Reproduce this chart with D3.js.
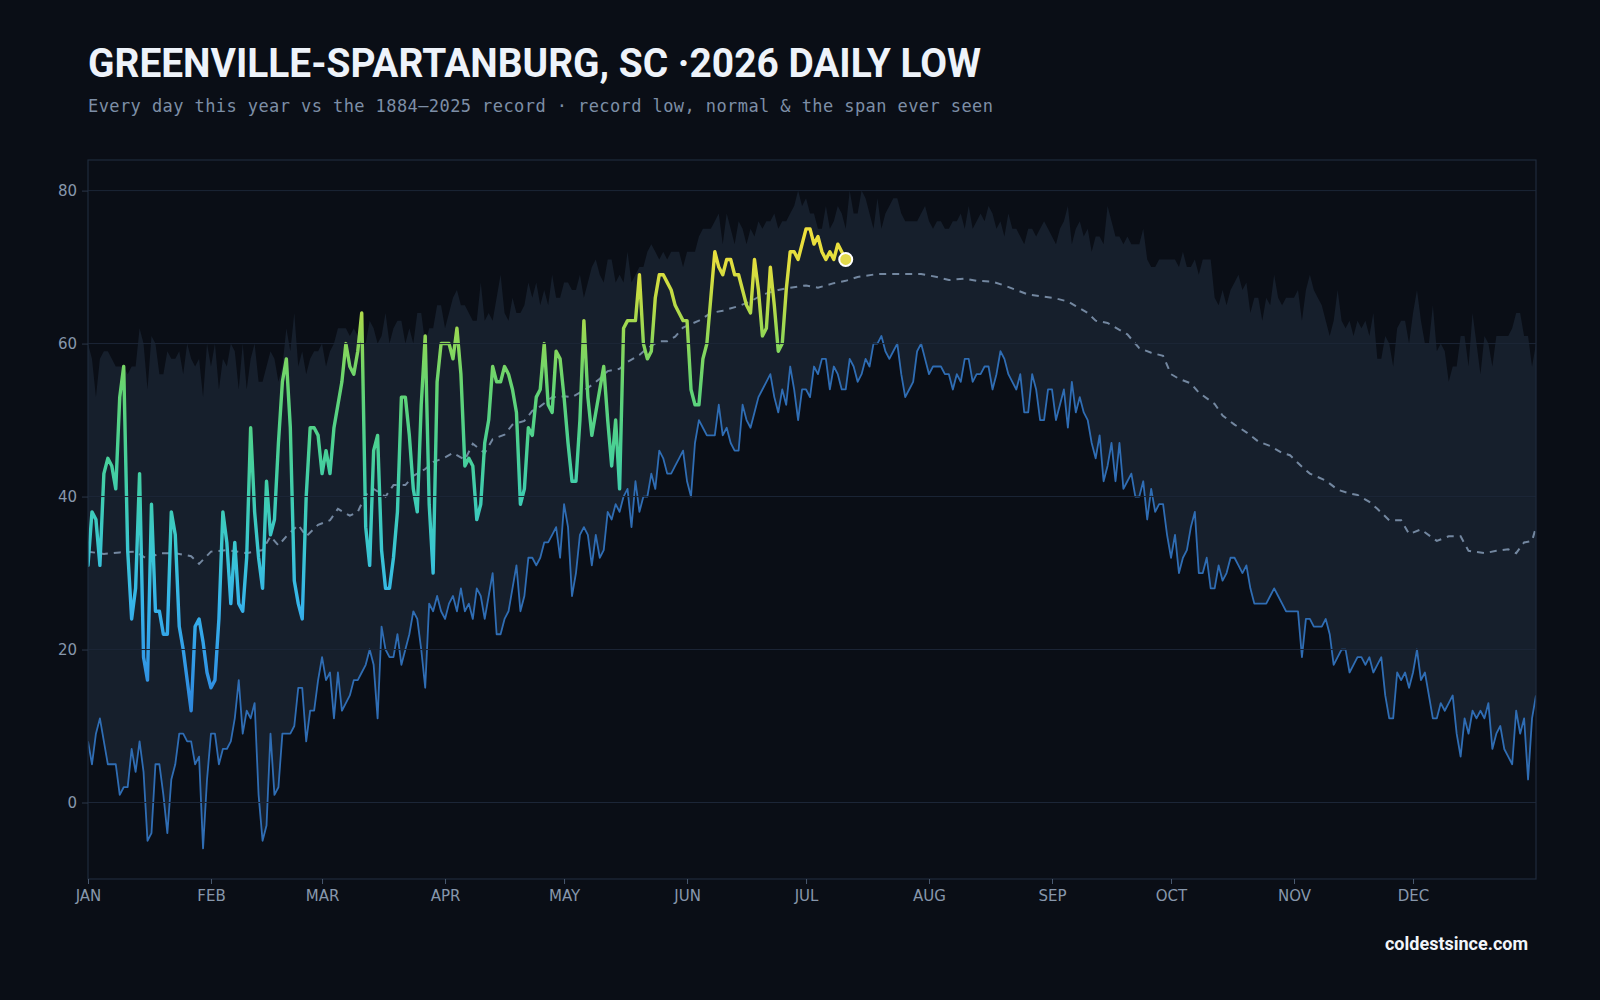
<!DOCTYPE html>
<html><head><meta charset="utf-8">
<script src="https://cdn.jsdelivr.net/npm/d3@7"></script>
<style>html,body{margin:0;padding:0;background:#0a0e16;} svg{display:block}</style>
</head><body>
<svg id="chart" width="1600" height="1000"></svg>
<script>
const titleText = "GREENVILLE-SPARTANBURG, SC ·2026 DAILY LOW";
const subtitleText = "Every day this year vs the 1884–2025 record · record low, normal & the span ever seen";
const footerText = "coldestsince.com";
const monthLabels = ["JAN","FEB","MAR","APR","MAY","JUN","JUL","AUG","SEP","OCT","NOV","DEC"];
const monthStartDays = [0,31,59,90,120,151,181,212,243,273,304,334];
const yTicks = [0,20,40,60,80];

// record low for each day of year (°F)
const recordLow = [
8,5,9,11,8,5,5,5,1,2,
2,7,4,8,4,-5,-4,5,5,1,
-4,3,5,9,9,8,8,5,6,-6,
3,9,9,5,7,7,8,11,16,9,
12,11,13,1,-5,-3,9,1,2,9,
9,9,10,15,15,8,12,12,16,19,
16,17,11,17,12,13,14,16,16,17,
18,20,18,11,23,20,19,19,22,18,
20,22,25,24,20,15,26,25,27,25,
24,26,27,25,28,25,26,24,28,27,
24,27,30,22,22,24,25,28,31,25,
27,32,32,31,32,34,34,35,36,32,
39,36,27,30,35,36,35,31,35,32,
33,38,37,39,38,40,41,36,42,38,
40,40,43,41,46,45,43,43,44,45,
46,42,40,47,50,49,48,48,48,52,
48,49,47,46,46,52,50,49,51,53,
54,55,56,53,51,54,52,57,54,50,
54,54,53,57,56,58,58,54,57,56,
54,54,58,57,55,56,58,57,60,60,
61,59,58,59,60,56,53,54,55,59,
60,58,56,57,57,57,56,56,54,56,
55,58,58,55,56,56,57,57,54,56,
59,58,56,55,54,56,51,51,56,54,
50,50,54,54,50,52,54,49,55,51,
53,51,50,47,45,48,42,44,47,42,
47,41,42,43,40,40,42,37,41,38,
39,39,35,32,35,30,32,33,36,38,
30,30,32,28,28,31,29,30,32,32,
31,30,31,28,26,26,26,26,27,28,
27,26,25,25,25,25,19,24,24,23,
23,23,24,22,18,19,20,20,17,18,
19,19,18,19,17,18,19,14,11,11,
17,16,17,15,17,20,16,17,14,11,
11,13,12,13,14,9,6,11,9,12,
11,12,11,13,7,9,10,7,6,5,
12,9,11,3,11,14
];

// highest daily low ever seen for each day (top of the span)
const recordHighLow = [
60,58,53,58,59,59,58,57,57,57,
56,57,57,62,60,54,61,60,56,56,
59,58,58,59,56,60,58,57,58,53,
60,57,60,54,58,57,60,59,54,60,
54,58,60,55,55,57,59,58,55,57,
62,59,64,57,59,56,58,59,59,60,
57,59,60,62,62,62,61,62,61,60,
60,63,62,60,61,64,60,62,63,63,
60,62,60,64,64,60,62,62,65,65,
62,64,66,67,65,65,64,63,63,68,
63,64,63,66,69,64,63,66,64,64,
65,68,66,68,65,67,65,69,66,66,
68,68,67,67,69,66,68,70,71,69,
68,71,71,68,69,68,72,68,69,70,
70,72,73,72,71,72,71,72,72,72,
70,72,72,72,74,75,75,75,76,77,
73,77,75,73,76,75,73,75,74,76,
75,76,76,77,75,76,76,77,78,80,
78,79,77,77,75,75,78,75,76,78,
77,75,80,77,77,80,79,77,75,79,
75,77,78,79,79,77,76,76,76,76,
77,78,76,75,76,76,75,75,76,76,
77,75,78,75,76,77,76,78,77,75,
76,74,77,75,75,74,73,75,75,74,
75,76,75,74,73,75,76,78,73,75,
76,74,75,72,74,74,73,78,76,74,
74,73,74,73,73,73,75,71,70,70,
71,71,71,71,71,70,72,70,70,71,
69,71,71,71,66,65,67,65,67,68,
69,67,68,64,66,66,63,66,65,69,
66,65,66,66,66,67,63,67,69,67,
66,65,63,61,63,67,63,62,63,61,
63,62,63,61,64,58,58,61,60,57,
62,63,63,60,64,67,63,60,60,65,
59,60,59,55,57,57,61,61,57,64,
60,56,61,60,57,61,61,61,61,62,
64,64,61,61,57,60
];

// normal daily low, read at sampled days
const normalDays = [0,4,8,12,15,18,22,26,28,31,35,40,44,46,48,50,53,55,58,61,63,66,68,70,72,75,77,80,82,85,87,90,92,95,97,100,102,105,107,110,112,114,117,120,122,126,129,131,134,136,139,141,144,146,148,150,154,157,160,164,167,170,174,177,181,184,188,191,194,199,203,207,210,214,217,221,224,228,231,234,237,240,244,247,249,252,254,257,260,262,265,268,271,273,275,278,280,284,286,289,292,295,298,301,303,306,308,312,315,318,320,323,325,328,331,333,336,340,343,346,348,352,355,358,360,362,364,365];
const normalTemps = [32.8,32.5,32.7,32.8,31.8,32.6,32.6,32.2,31.2,32.8,33,32.6,33,34.8,33.6,34.8,36.3,34.8,36.3,36.9,38.4,37.5,38,40.2,41,40,41.5,41.5,42.7,43.6,44.5,45.1,45.7,44.8,46.9,45.7,47.5,48.1,49.4,49.9,51.2,51.8,53,53.1,53,54.2,55.4,56.4,56.7,57.6,58.5,59.4,60.3,60.3,60.9,62.1,63,64,64.3,64.9,65.5,66.4,67,67.3,67.6,67.3,67.9,68.2,68.7,69.1,69.1,69.1,69.1,68.7,68.3,68.5,68.2,68.1,67.6,67,66.4,66.2,65.9,65.5,64.9,64,63,62.7,61.8,61.2,59.4,58.8,58.4,56,55.4,54.8,53.6,52.1,50.6,49.4,48.4,47.2,46.6,45.7,45.4,43.9,43,42.1,40.9,40.4,40.2,39.3,38.4,36.9,36.9,35.1,35.7,34.2,34.8,34.8,32.9,32.6,32.9,33.1,32.6,34,34.2,36];

// 2026 daily lows, Jan 1 .. Jul 11
const lows2026 = [
31,38,37,31,43,45,44,41,53,57,
33,24,28,43,19,16,39,25,25,22,
22,38,35,23,20,16,12,23,24,21,
17,15,16,24,38,34,26,34,26,25,
32,49,38,32,28,42,35,37,47,55,
58,49,29,26,24,40,49,49,48,43,
46,43,49,52,55,60,57,56,59,64,
36,31,46,48,33,28,28,32,38,53,
53,48,41,38,52,61,39,30,55,60,
60,60,58,62,56,44,45,44,37,39,
47,50,57,55,55,57,56,54,51,39,
41,49,48,53,54,60,52,51,59,58,
53,47,42,42,50,63,53,48,51,54,
57,50,44,50,41,62,63,63,63,69,
60,58,59,66,69,69,68,67,65,64,
63,63,54,52,52,58,60,66,72,70,
69,71,71,69,69,67,65,64,71,67,
61,62,70,65,59,60,67,72,72,71,
73,75,75,73,74,72,71,72,71,73,
72,71
];

// colour ramp for 2026 line by temperature
const rampTemps  = [10,18,26,33,40,47,54,60,66,71,76];
const rampColors = ["#2c80d8","#3299e6","#36b4ea","#3ac6d2","#3fcdb0","#4bd192","#62d474","#8ad75a","#c0db44","#e5de3e","#f0e03c"];

const svg = d3.select("#chart");
const W = 1600, H = 1000;
const plot = {left: 88, right: 1536, top: 160, bottom: 879};

svg.append("rect").attr("width", W).attr("height", H).attr("fill", "#0a0e16");

const x = d3.scaleLinear().domain([0, 365]).range([plot.left, plot.right]);
const y = d3.scaleLinear().domain([-10, 84]).range([plot.bottom, plot.top]);

// title
svg.append("text")
  .attr("x", 88).attr("y", 77)
  .attr("font-family", "Roboto, 'Liberation Sans', sans-serif")
  .attr("font-weight", 700).attr("font-size", 40)
  .attr("fill", "#eef3fa")
  .attr("textLength", 893).attr("lengthAdjust", "spacingAndGlyphs")
  .text(titleText);

svg.append("text")
  .attr("x", 88).attr("y", 112)
  .attr("font-family", "'DejaVu Sans Mono', monospace")
  .attr("font-size", 17).attr("fill", "#7d8ea6")
  .attr("textLength", 905)
  .text(subtitleText);

const defs = svg.append("defs");
defs.append("clipPath").attr("id", "plotClip").append("rect")
  .attr("x", plot.left).attr("y", plot.top)
  .attr("width", plot.right - plot.left).attr("height", plot.bottom - plot.top);

const grad = defs.append("linearGradient").attr("id", "tempGrad")
  .attr("gradientUnits", "userSpaceOnUse")
  .attr("x1", 0).attr("x2", 0)
  .attr("y1", y(rampTemps[0])).attr("y2", y(rampTemps[rampTemps.length - 1]));
rampTemps.forEach((t, i) => {
  grad.append("stop")
    .attr("offset", (t - rampTemps[0]) / (rampTemps[rampTemps.length - 1] - rampTemps[0]))
    .attr("stop-color", rampColors[i]);
});

const g = svg.append("g").attr("clip-path", "url(#plotClip)");

// span band
const days = d3.range(recordLow.length);
g.append("path")
  .datum(days)
  .attr("fill", "#161f2c")
  .attr("d", d3.area().x(i => x(i)).y0(i => y(recordLow[i])).y1(i => y(recordHighLow[i])));

// gridlines
svg.append("g").selectAll("line").data(yTicks).join("line")
  .attr("x1", plot.left).attr("x2", plot.right)
  .attr("y1", d => y(d)).attr("y2", d => y(d))
  .attr("stroke", "#1c2637").attr("stroke-width", 1);

// record low line
g.append("path")
  .datum(days)
  .attr("fill", "none").attr("stroke", "#2f6db4").attr("stroke-width", 1.8)
  .attr("stroke-linejoin", "round")
  .attr("d", d3.line().x(i => x(i)).y(i => y(recordLow[i])));

// normal dashed
g.append("path")
  .datum(normalDays.map((d, i) => [d, normalTemps[i]]))
  .attr("fill", "none").attr("stroke", "#7387a0").attr("stroke-width", 2)
  .attr("stroke-dasharray", "7,6")
  .attr("d", d3.line().x(d => x(d[0])).y(d => y(d[1])));

// 2026 line
g.append("path")
  .datum(lows2026)
  .attr("fill", "none").attr("stroke", "url(#tempGrad)").attr("stroke-width", 3.4)
  .attr("stroke-linejoin", "round").attr("stroke-linecap", "round")
  .attr("d", d3.line().x((d, i) => x(i)).y(d => y(d)));

// last point
const lastI = lows2026.length - 1;
svg.append("circle")
  .attr("cx", x(lastI)).attr("cy", y(lows2026[lastI])).attr("r", 6.5)
  .attr("fill", "#e3da4c").attr("stroke", "#ffffff").attr("stroke-width", 2);

// frame
svg.append("rect")
  .attr("x", plot.left).attr("y", plot.top)
  .attr("width", plot.right - plot.left).attr("height", plot.bottom - plot.top)
  .attr("fill", "none").attr("stroke", "#1f2b3c").attr("stroke-width", 1.2);

// y axis
const yAxis = svg.append("g").attr("transform", `translate(${plot.left},0)`)
  .call(d3.axisLeft(y).tickValues(yTicks).tickSize(6).tickPadding(5));
yAxis.select(".domain").remove();
yAxis.selectAll("line").attr("stroke", "#2a3648");
yAxis.selectAll("text").attr("fill", "#8797ac").attr("font-size", 15)
  .attr("font-family", "'DejaVu Sans', sans-serif");

// x axis
const xAxis = svg.append("g").attr("transform", `translate(0,${plot.bottom})`)
  .call(d3.axisBottom(x).tickValues(monthStartDays).tickFormat((d, i) => monthLabels[i]).tickSize(5).tickPadding(6));
xAxis.select(".domain").remove();
xAxis.selectAll("line").attr("stroke", "#4a5a70");
xAxis.selectAll("text").attr("fill", "#8797ac").attr("font-size", 15)
  .attr("font-family", "'DejaVu Sans', sans-serif");

// footer
svg.append("text")
  .attr("x", 1528).attr("y", 950).attr("text-anchor", "end")
  .attr("font-family", "Roboto, 'Liberation Sans', sans-serif")
  .attr("font-weight", 700).attr("font-size", 18).attr("fill", "#f2f5fa")
  .attr("textLength", 143).attr("lengthAdjust", "spacingAndGlyphs")
  .text(footerText);
</script>
</body></html>
